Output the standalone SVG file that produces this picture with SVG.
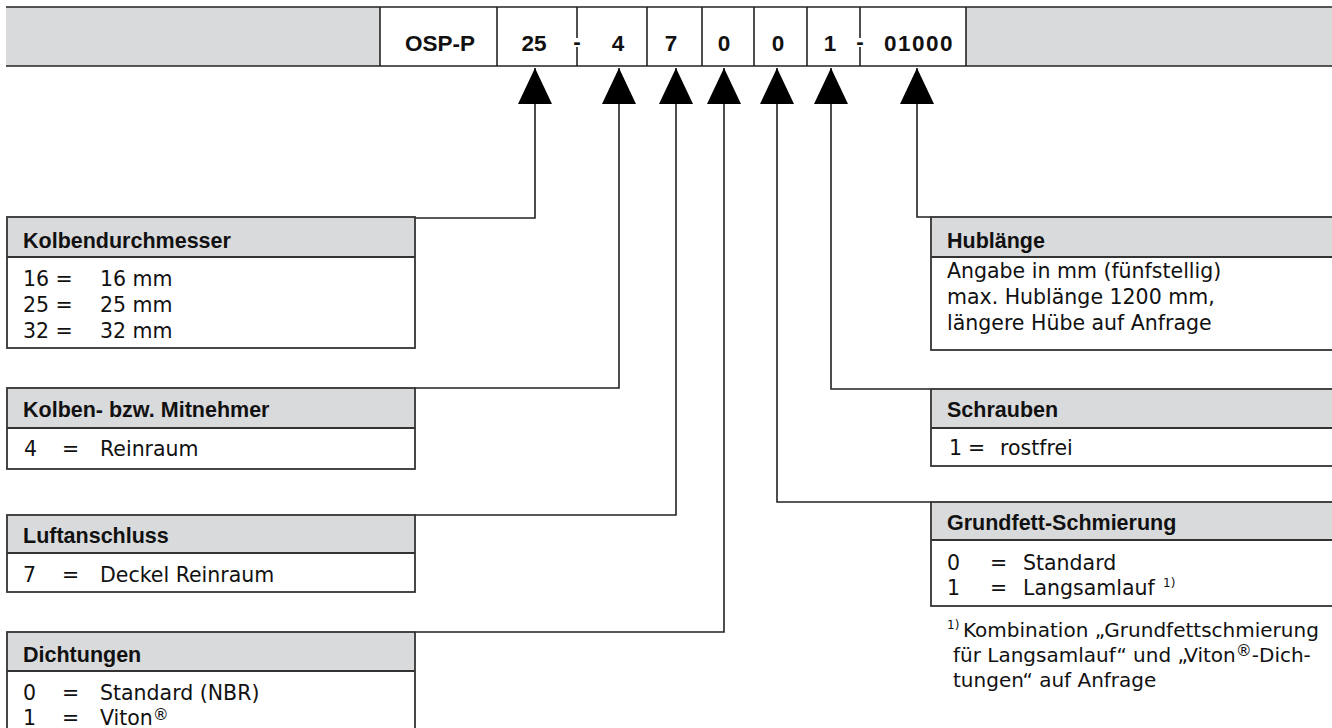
<svg xmlns="http://www.w3.org/2000/svg" width="1332" height="728" viewBox="0 0 1332 728">
<style>
.bg{fill:#ffffff}
.gray{fill:#d9dadc}
.frame{fill:none;stroke:#333333;stroke-width:1.8}
.line{stroke:#222222;stroke-width:1.6;fill:none}
.bar{font-family:"Liberation Sans",Arial,sans-serif;font-weight:bold;font-size:22.5px;fill:#111111;text-anchor:middle}
.hdr{font-family:"Liberation Sans",Arial,sans-serif;font-weight:bold;font-size:21.5px;fill:#111111}
.txt{font-family:"DejaVu Sans",sans-serif;font-size:20.5px;fill:#111111}
.fn{font-family:"DejaVu Sans",sans-serif;font-size:20px;fill:#111111}
.sup{font-family:"DejaVu Sans",sans-serif;font-size:12px;fill:#111111}
.conn{stroke:#222222;stroke-width:1.6;fill:none;marker-end:url(#tri)}
</style>
<defs>
<marker id="tri" viewBox="0 0 36 34" refX="36" refY="17" markerWidth="36" markerHeight="34" markerUnits="userSpaceOnUse" orient="auto">
<path d="M0,0 L36,17 L0,34 Z" fill="#000000"/>
</marker>
</defs>
<rect class="bg" x="0" y="0" width="1332" height="728"/>

<g id="code-bar">
<rect class="gray" x="6" y="7" width="374" height="59"/>
<rect class="gray" x="966" y="7" width="370" height="59"/>
<line class="line" x1="6" y1="7" x2="1332" y2="7" stroke-width="2.2"/>
<line class="line" x1="6" y1="66" x2="1332" y2="66" stroke-width="2.2"/>
<line class="line" x1="380" y1="7" x2="380" y2="66"/>
<line class="line" x1="497" y1="7" x2="497" y2="66"/>
<line class="line" x1="577" y1="7" x2="577" y2="38"/>
<line class="line" x1="577" y1="47" x2="577" y2="66"/>
<line class="line" x1="647" y1="7" x2="647" y2="66"/>
<line class="line" x1="702" y1="7" x2="702" y2="66"/>
<line class="line" x1="754" y1="7" x2="754" y2="66"/>
<line class="line" x1="807" y1="7" x2="807" y2="66"/>
<line class="line" x1="860" y1="7" x2="860" y2="38"/>
<line class="line" x1="860" y1="47" x2="860" y2="66"/>
<line class="line" x1="966" y1="7" x2="966" y2="66" stroke="#555555" stroke-width="2.2"/>
<text class="bar" x="440" y="51">OSP-P</text>
<text class="bar" x="534" y="51">25</text>
<text class="bar" x="577" y="49">-</text>
<text class="bar" x="618" y="51">4</text>
<text class="bar" x="671" y="51">7</text>
<text class="bar" x="724" y="51">0</text>
<text class="bar" x="778" y="51">0</text>
<text class="bar" x="830" y="51">1</text>
<text class="bar" x="860" y="49">-</text>
<text class="bar" x="919" y="51" letter-spacing="1.5">01000</text>
</g>

<g id="connectors">
<path class="conn" d="M415,218 H535 V68"/>
<path class="conn" d="M415,388 H619 V68"/>
<path class="conn" d="M415,515 H676 V68"/>
<path class="conn" d="M415,632 H724 V68"/>
<path class="conn" d="M931,502 H777 V68"/>
<path class="conn" d="M931,389 H831 V68"/>
<path class="conn" d="M931,217 H917 V68"/>
</g>

<g id="box-kolbendurchmesser">
<rect class="gray" x="7" y="217" width="408" height="40"/>
<rect class="frame" x="7" y="217" width="408" height="131"/>
<line class="frame" x1="7" y1="257" x2="415" y2="257"/>
<text class="hdr" x="23" y="248">Kolbendurchmesser</text>
<text class="txt" x="23" y="286">16 =</text><text class="txt" x="100" y="286">16 mm</text>
<text class="txt" x="23" y="312">25 =</text><text class="txt" x="100" y="312">25 mm</text>
<text class="txt" x="23" y="338">32 =</text><text class="txt" x="100" y="338">32 mm</text>
</g>

<g id="box-mitnehmer">
<rect class="gray" x="7" y="388" width="408" height="40"/>
<rect class="frame" x="7" y="388" width="408" height="81"/>
<line class="frame" x1="7" y1="428" x2="415" y2="428"/>
<text class="hdr" x="23" y="417">Kolben- bzw. Mitnehmer</text>
<text class="txt" x="24" y="456">4</text><text class="txt" x="62" y="456">=</text><text class="txt" x="100" y="456">Reinraum</text>
</g>

<g id="box-luftanschluss">
<rect class="gray" x="7" y="515" width="408" height="38"/>
<rect class="frame" x="7" y="515" width="408" height="77"/>
<line class="frame" x1="7" y1="553" x2="415" y2="553"/>
<text class="hdr" x="23" y="543">Luftanschluss</text>
<text class="txt" x="23" y="582">7</text><text class="txt" x="62" y="582">=</text><text class="txt" x="100" y="582">Deckel Reinraum</text>
</g>

<g id="box-dichtungen">
<rect class="gray" x="7" y="632" width="408" height="39"/>
<rect class="frame" x="7" y="632" width="408" height="120"/>
<line class="frame" x1="7" y1="671" x2="415" y2="671"/>
<text class="hdr" x="23" y="662">Dichtungen</text>
<text class="txt" x="23" y="700">0</text><text class="txt" x="62" y="700">=</text><text class="txt" x="100" y="700">Standard (NBR)</text>
<text class="txt" x="23" y="725">1</text><text class="txt" x="62" y="725">=</text><text class="txt" x="100" y="725">Viton<tspan font-size="16" dy="-5">®</tspan></text>
</g>

<g id="box-hublaenge">
<rect class="gray" x="931" y="217" width="409" height="40"/>
<rect class="frame" x="931" y="217" width="409" height="133"/>
<line class="frame" x1="931" y1="257" x2="1340" y2="257"/>
<text class="hdr" x="947" y="248">Hublänge</text>
<text class="txt" x="947" y="278">Angabe in mm (fünfstellig)</text>
<text class="txt" x="947" y="304">max. Hublänge 1200 mm,</text>
<text class="txt" x="947" y="330">längere Hübe auf Anfrage</text>
</g>

<g id="box-schrauben">
<rect class="gray" x="931" y="389" width="409" height="39"/>
<rect class="frame" x="931" y="389" width="409" height="77"/>
<line class="frame" x1="931" y1="428" x2="1340" y2="428"/>
<text class="hdr" x="947" y="417">Schrauben</text>
<text class="txt" x="949" y="455">1</text><text class="txt" x="968" y="455">=</text><text class="txt" x="1000" y="455">rostfrei</text>
</g>

<g id="box-grundfett">
<rect class="gray" x="931" y="502" width="409" height="38"/>
<rect class="frame" x="931" y="502" width="409" height="104"/>
<line class="frame" x1="931" y1="540" x2="1340" y2="540"/>
<text class="hdr" x="947" y="530">Grundfett-Schmierung</text>
<text class="txt" x="947" y="570">0</text><text class="txt" x="990" y="570">=</text><text class="txt" x="1023" y="570">Standard</text>
<text class="txt" x="947" y="595">1</text><text class="txt" x="990" y="595">=</text><text class="txt" x="1023" y="595">Langsamlauf</text>
<text class="sup" x="1163" y="587">1)</text>
</g>

<g id="footnote">
<text class="sup" x="947" y="629">1)</text>
<text class="fn" x="963" y="637">Kombination „Grundfettschmierung</text>
<text class="fn" x="953" y="662">für Langsamlauf“ und „Viton<tspan font-size="16" dy="-6">®</tspan><tspan dy="6">-Dich-</tspan></text>
<text class="fn" x="953" y="687">tungen“ auf Anfrage</text>
</g>
</svg>
